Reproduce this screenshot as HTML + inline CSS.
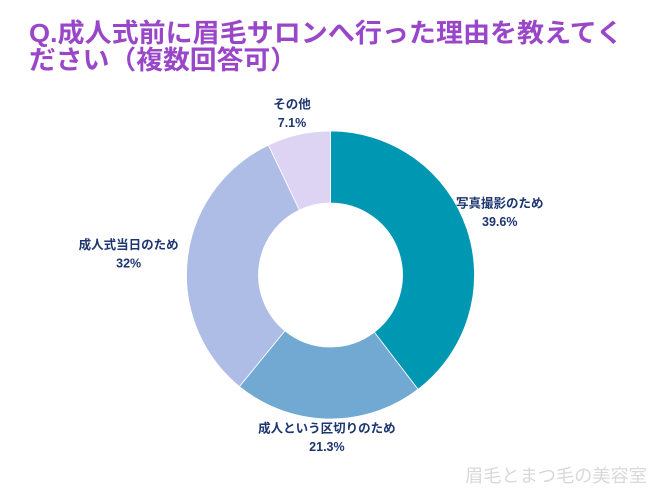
<!DOCTYPE html>
<html><head><meta charset="utf-8">
<style>
html,body{margin:0;padding:0;background:#fff;}
body{width:650px;height:488px;overflow:hidden;font-family:"Liberation Sans","Noto Sans CJK JP",sans-serif;}
</style></head>
<body>
<svg id="chart" width="650" height="488" viewBox="0 0 650 488" xmlns="http://www.w3.org/2000/svg">
  <g font-family="Liberation Sans, Noto Sans CJK JP, sans-serif" font-weight="bold" fill="#9a46c8" font-size="26">
    <text x="29" y="42" textLength="594" lengthAdjust="spacingAndGlyphs">Q.成人式前に眉毛サロンへ行った理由を教えてく</text>
    <text x="29" y="69" textLength="268" lengthAdjust="spacingAndGlyphs">ださい（複数回答可）</text>
  </g>
  <g id="slices"></g>
  <g id="labels" font-family="Liberation Sans, Noto Sans CJK JP, sans-serif" font-weight="bold" font-size="12.5" fill="#1d3670" text-anchor="middle"></g>
  <text x="465" y="482" font-size="18" fill="#d9d9d9" font-family="Liberation Sans, Noto Sans CJK JP, sans-serif" textLength="182" lengthAdjust="spacingAndGlyphs">眉毛とまつ毛の美容室</text>
</svg>
<script>
const categories = ["写真撮影のため","成人という区切りのため","成人式当日のため","その他"];
const values = [39.6, 21.3, 32, 7.1];
const valueLabels = ["39.6%","21.3%","32%","7.1%"];
const colors = ["#0097b2","#72a9d3","#aebde6","#ddd3f2"];

const cx = 330.5, cy = 275, R = 144, r = 72, LR = 165;
const labelNudgeX = [13, -1, -38, -2];
const labelNudgeY = [-10, -3, -2, -1];
const NS = "http://www.w3.org/2000/svg";
const total = values.reduce((a,b)=>a+b,0);
function angleOf(v){ return v/total*2*Math.PI; }
function pt(rad, a){ return [cx + rad*Math.sin(a), cy - rad*Math.cos(a)]; }
const gS = document.getElementById('slices');
const gL = document.getElementById('labels');
let a0 = 0;
values.forEach((v,i)=>{
  const a1 = a0 + angleOf(v);
  const large = (a1-a0) > Math.PI ? 1 : 0;
  const p1 = pt(R,a0), p2 = pt(R,a1), p3 = pt(r,a1), p4 = pt(r,a0);
  const d = `M${p1[0]},${p1[1]} A${R},${R} 0 ${large} 1 ${p2[0]},${p2[1]} L${p3[0]},${p3[1]} A${r},${r} 0 ${large} 0 ${p4[0]},${p4[1]} Z`;
  const path = document.createElementNS(NS,'path');
  path.setAttribute('d', d);
  path.setAttribute('fill', colors[i]);
  path.setAttribute('stroke', '#fff');
  path.setAttribute('stroke-width', '0.8');
  
  
  gS.appendChild(path);
  const mid = (a0+a1)/2;
  const lp = pt(LR, mid);
  const lx = lp[0] + (labelNudgeX[i] || 0);
  const ly = lp[1] + (labelNudgeY[i] || 0);
  const t = document.createElementNS(NS,'text');
  
  
  t.setAttribute('x', lx);
  t.setAttribute('y', ly);
  const s1 = document.createElementNS(NS,'tspan');
  s1.setAttribute('x', lx);
  s1.setAttribute('dy', '-4.5');
  s1.textContent = categories[i];
  const s2 = document.createElementNS(NS,'tspan');
  s2.setAttribute('x', lx);
  s2.setAttribute('dy', '18.5');
  s2.textContent = valueLabels[i];
  t.appendChild(s1); t.appendChild(s2);
  gL.appendChild(t);
  a0 = a1;
});
</script>
</body></html>
